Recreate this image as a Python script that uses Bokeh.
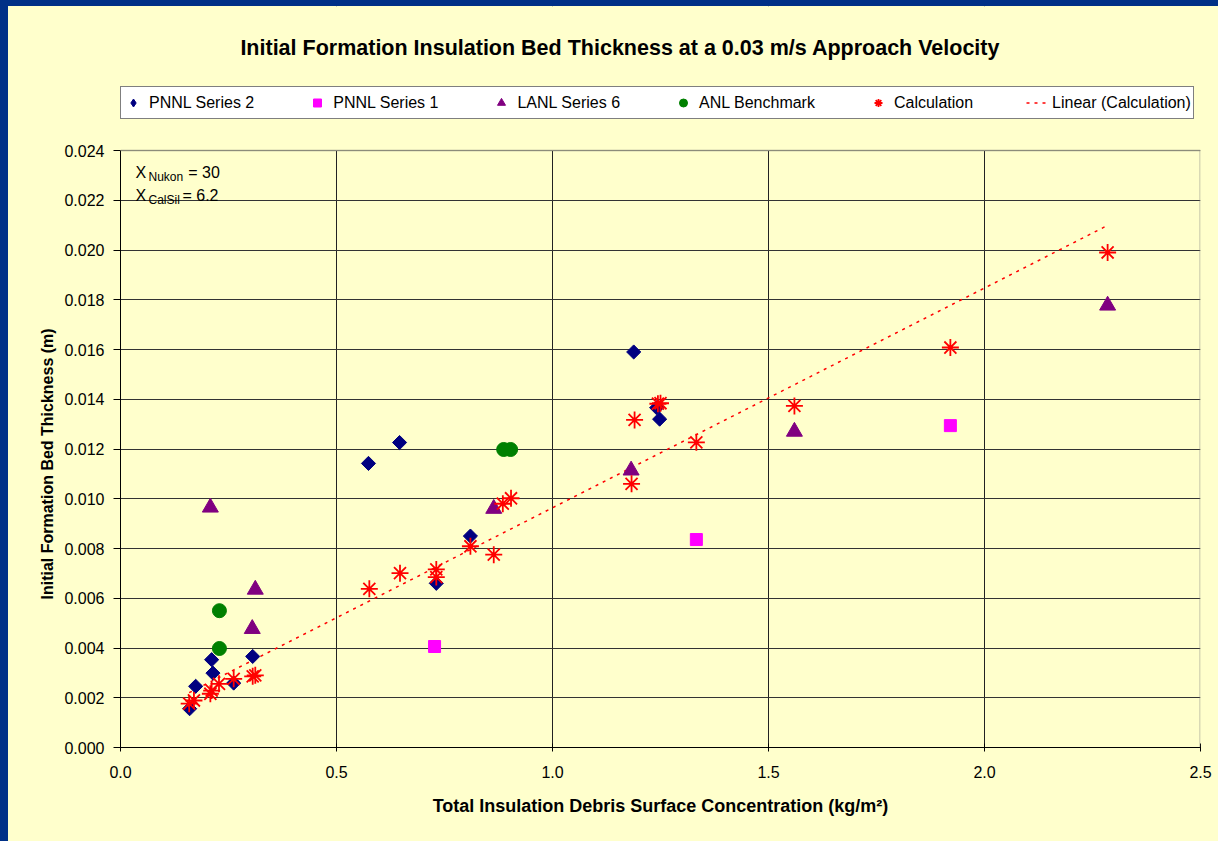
import numpy as np
from bokeh.plotting import figure
from bokeh.layouts import column, row
from bokeh.models import (Range1d, FixedTicker, NumeralTickFormatter, Legend, LegendItem, Label,
                          BoxAnnotation, Title, Spacer)
from bokeh.embed import file_html
from bokeh.resources import INLINE

# ---------------- data ----------------
pnnl2_x = [0.160, 0.174, 0.211, 0.214, 0.262, 0.306, 0.574, 0.646, 0.731, 0.810, 1.188, 1.241, 1.248]
pnnl2_y = [0.00156, 0.00246, 0.00353, 0.00299, 0.00259, 0.00366, 0.01142, 0.01226, 0.00660, 0.00850, 0.01590, 0.01366, 0.01320]

pnnl1_x = [0.727, 1.333, 1.921]
pnnl1_y = [0.00406, 0.00836, 0.01294]

lanl6_x = [0.208, 0.305, 0.312, 0.864, 1.182, 1.560, 2.285]
lanl6_y = [0.00965, 0.00477, 0.00635, 0.00960, 0.01114, 0.01270, 0.01777]

anl_x = [0.229, 0.229, 0.887, 0.903]
anl_y = [0.00550, 0.00398, 0.01198, 0.01198]

calc_x = [0.159, 0.170, 0.208, 0.211, 0.228, 0.262, 0.306, 0.312, 0.576, 0.647, 0.731, 0.731,
          0.810, 0.864, 0.885, 0.904, 1.183, 1.190, 1.244, 1.250, 1.333, 1.560, 1.921, 2.285]
calc_y = [0.00176, 0.00189, 0.00216, 0.00229, 0.00256, 0.00276, 0.00286, 0.00290, 0.00638, 0.00701,
          0.00716, 0.00685, 0.00809, 0.00775, 0.00980, 0.01002, 0.01060, 0.01317, 0.01382, 0.01384,
          0.01227, 0.01373, 0.01608, 0.01990]

x_ticks = [0.0, 0.5, 1.0, 1.5, 2.0, 2.5]
y_ticks = [0.000, 0.002, 0.004, 0.006, 0.008, 0.010, 0.012, 0.014, 0.016, 0.018, 0.020, 0.022, 0.024]

title_text = "Initial Formation Insulation Bed Thickness at a 0.03 m/s Approach Velocity"
x_label = "Total Insulation Debris Surface Concentration (kg/m²)"
y_label = "Initial Formation Bed Thickness (m)"

# linear trendline (least squares on Calculation series)
slope, intercept = np.polyfit(calc_x, calc_y, 1)
trend_x = [min(calc_x), max(calc_x)]
trend_y = [slope * v + intercept for v in trend_x]

FONT = "Liberation Sans"
BG = "#FFFFCC"
SLIDE_BLUE = "#003087"

# layout (pixels, figure coordinates)
W, H = 1210, 835
FRAME_L, FRAME_R, FRAME_B = 112, 1192, 741
PLOT_TOP = 144            # pixel where the 0.024 level sits
y_max = y_ticks[-1] * FRAME_B / (FRAME_B - PLOT_TOP)   # frame reaches figure top

p = figure(width=W, height=H, output_backend="svg", toolbar_location=None,
           title_location=None,
           x_range=Range1d(x_ticks[0], x_ticks[-1]), y_range=Range1d(0, y_max),
           min_border_left=FRAME_L, min_border_right=W - FRAME_R,
           min_border_top=0, min_border_bottom=H - FRAME_B)
p.background_fill_color = BG
p.border_fill_color = BG
p.outline_line_color = None
p.styles = {"background-color": BG}

# axes
p.xaxis.ticker = FixedTicker(ticks=x_ticks)
p.yaxis.ticker = FixedTicker(ticks=y_ticks)
p.xaxis.formatter = NumeralTickFormatter(format="0.0")
p.yaxis.formatter = NumeralTickFormatter(format="0.000")
p.yaxis.bounds = (y_ticks[0], y_ticks[-1])
for ax in (p.xaxis[0], p.yaxis[0]):
    ax.axis_line_color = "#000000"
    ax.major_tick_line_color = "#000000"
    ax.minor_tick_line_color = None
    ax.major_label_text_font = FONT
    ax.major_label_text_font_size = "16px"
    ax.major_label_text_color = "#000000"
    ax.axis_label_text_font = FONT
    ax.axis_label_text_font_size = "18px"
    ax.axis_label_text_font_style = "bold"
    ax.axis_label_text_color = "#000000"
p.yaxis.major_tick_in = 0
p.yaxis.major_tick_out = 7
p.yaxis.major_label_standoff = 9
p.xaxis.major_tick_in = 4
p.xaxis.major_tick_out = 4
p.xaxis.major_label_standoff = 14
p.xaxis.axis_label = x_label
p.xaxis.axis_label_standoff = 15

# y-axis title in the left panel, starting near the bottom of the plot area
p.add_layout(Title(text=y_label, align="left", offset=148, standoff=12,
                   text_font=FONT, text_font_size="16px", text_font_style="bold",
                   text_color="#000000"), "left")

p.xgrid.ticker = FixedTicker(ticks=x_ticks[1:-1])
p.ygrid.ticker = FixedTicker(ticks=y_ticks)
p.xgrid.grid_line_color = "#222222"
p.ygrid.grid_line_color = "#333333"
p.xgrid.grid_line_width = 1
p.ygrid.grid_line_width = 1

# glyphs
r_trend = p.line(trend_x, trend_y, line_color="#FF0000", line_width=1.5, line_dash="3 5")
# diamond-shaped key for the legend (drawn under the plotted diamonds)
r_p2_key = p.scatter(pnnl2_x, pnnl2_y, marker="diamond", size=12,
                     fill_color="#000080", line_color="#000080")
r_p2 = p.scatter(pnnl2_x, pnnl2_y, marker="square", angle=np.pi / 4, size=10,
                 fill_color="#000080", line_color="#000080")
r_p1 = p.scatter(pnnl1_x, pnnl1_y, marker="square", size=12,
                 fill_color="#FF00FF", line_color="#FF00FF")
r_l6 = p.scatter(lanl6_x, lanl6_y, marker="triangle", size=16,
                 fill_color="#800080", line_color="#800080")
r_anl = p.scatter(anl_x, anl_y, marker="circle", size=14,
                  fill_color="#008000", line_color="#008000")
r_calc = p.scatter(calc_x, calc_y, marker="asterisk", size=17,
                   line_color="#FF0000", line_width=1.8)

# cover the area above the plot region (title / legend area)
p.add_layout(BoxAnnotation(bottom=y_ticks[-1], fill_color=BG, fill_alpha=1,
                           line_color=None))
# plot-area border: top and right edges
p.add_layout(BoxAnnotation(left=x_ticks[0], right=x_ticks[-1], bottom=y_ticks[-1], top=y_ticks[-1],
                           fill_alpha=0, line_color="#707070", line_width=2))
p.add_layout(BoxAnnotation(left=x_ticks[-1], right=x_ticks[-1], bottom=y_ticks[0], top=y_ticks[-1],
                           fill_alpha=0, line_color="#808080", line_width=3))

# title
p.add_layout(Label(x=1.157, y=0.02814, text=title_text, text_font=FONT, text_font_size="21.5px",
                   text_font_style="bold", text_align="center", text_baseline="middle",
                   text_color="#000000"))

legend = Legend(items=[
    LegendItem(label="PNNL Series 2", renderers=[r_p2_key]),
    LegendItem(label="PNNL Series 1", renderers=[r_p1]),
    LegendItem(label="LANL Series 6", renderers=[r_l6]),
    LegendItem(label="ANL Benchmark", renderers=[r_anl]),
    LegendItem(label="Calculation", renderers=[r_calc]),
    LegendItem(label="Linear (Calculation)", renderers=[r_trend]),
], orientation="horizontal", location=(0, 628))
legend.label_text_font = FONT
legend.label_text_font_size = "16px"
legend.label_text_color = "#000000"
legend.border_line_color = "#000000"
legend.border_line_width = 1
legend.background_fill_color = "#FFFFFF"
legend.background_fill_alpha = 1
legend.glyph_width = 20
legend.glyph_height = 27
legend.label_standoff = 6
legend.spacing = 53
legend.padding = 2
legend.margin = 0
p.add_layout(legend, "center")

# annotation with subscripts
ann = [
    (0.0347, 0.02312, "X", "16px"),
    (0.0648, 0.02293, "Nukon", "12px"),
    (0.157, 0.02312, "= 30", "16px"),
    (0.0347, 0.02219, "X", "16px"),
    (0.0648, 0.02200, "CalSil", "12px"),
    (0.1435, 0.02219, "= 6.2", "16px"),
]
for ax_, ay_, t, fs in ann:
    p.add_layout(Label(x=ax_, y=ay_, text=t, text_font=FONT, text_font_size=fs,
                       text_baseline="middle", text_color="#000000"))

blue = {"background-color": SLIDE_BLUE}
yellow = {"background-color": BG}
page = column(Spacer(width=W + 8, height=6, styles=blue),
              row(Spacer(width=8, height=H, styles=blue), p, styles=yellow),
              styles=yellow)
open("out.html", "w").write(file_html(page, INLINE))
